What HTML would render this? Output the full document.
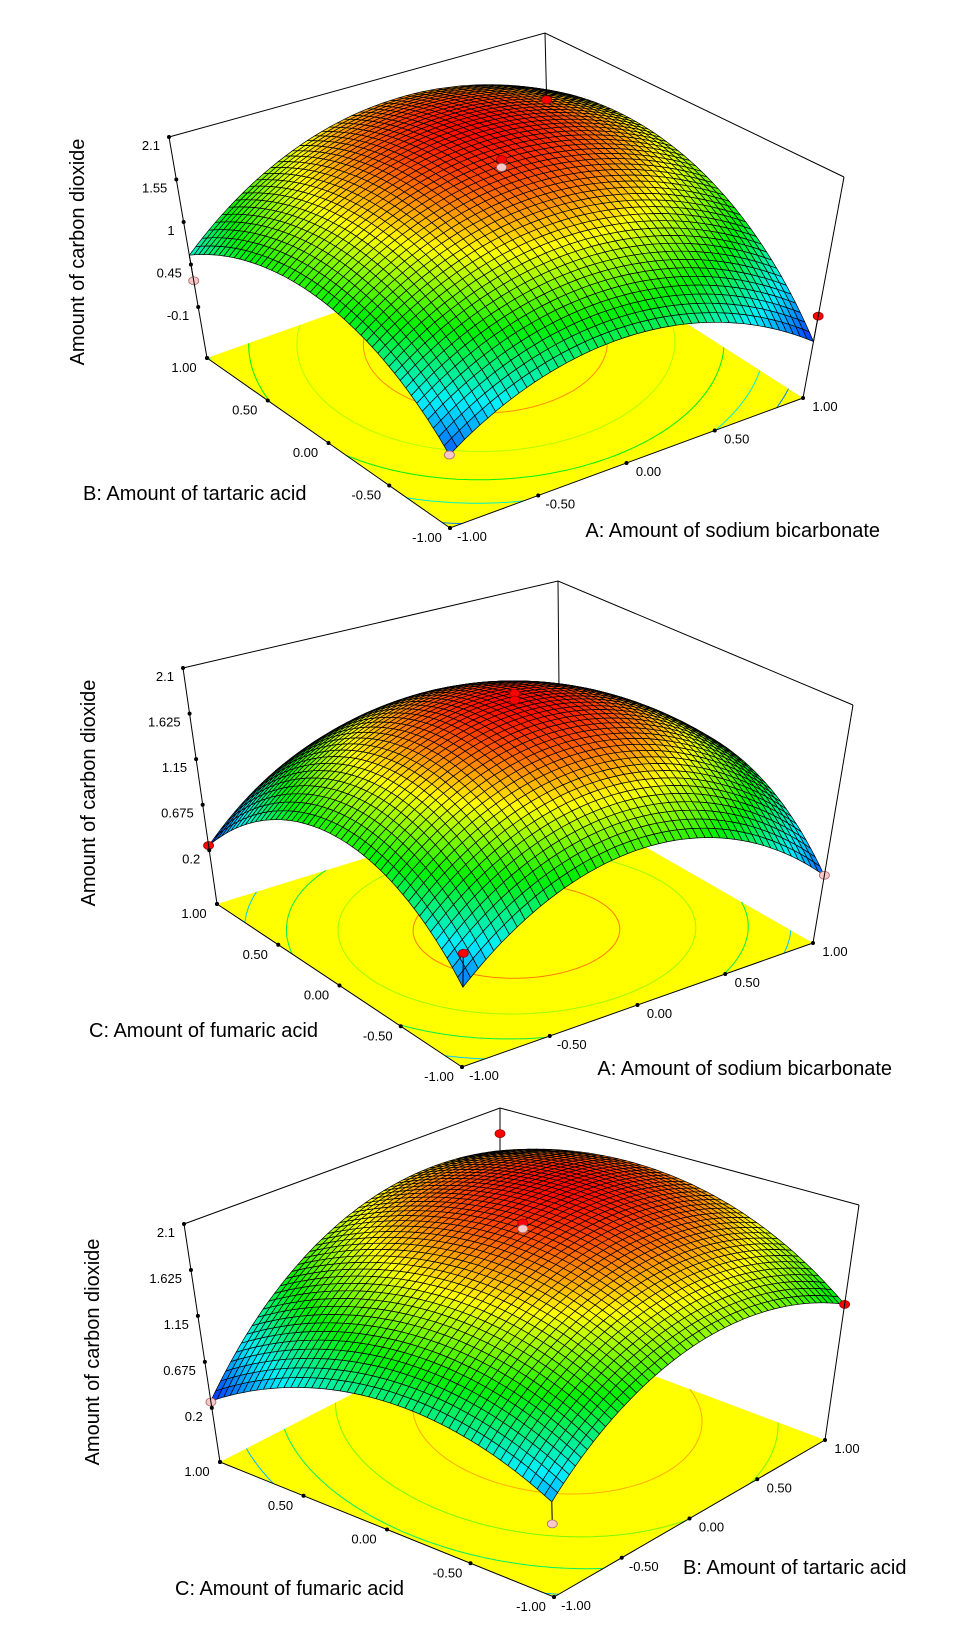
<!DOCTYPE html>
<html>
<head>
<meta charset="utf-8">
<style>
  html,body{margin:0;padding:0;background:#fff;}
  svg{display:block;}
  text{font-family:"Liberation Sans",Arial,sans-serif;fill:#000;}
  .tick{font-size:13px;}
  .title{font-size:20px;}
</style>
</head>
<body>
<svg id="chart" xmlns="http://www.w3.org/2000/svg" width="960" height="1632" viewBox="0 0 960 1632">
  <rect x="0" y="0" width="960" height="1632" fill="#fff"/>
</svg>
<script>
// ---------- data ----------
// quadratic model coefficients: [b0, b1(x), b2(y), b11(x^2), b22(y^2), b12(xy)]
const plot1Coef = [2.0, 0.15, 0.45, -0.8, -0.715, 0.215];
const plot2Coef = [2.0, -0.0025, -0.0475, -0.85, -0.83, 0.0275];
const plot3Coef = [2.0, 0.46, 0.065, -0.6, -0.53, 0.205];

const plot1ZTicks = [-0.1, 0.45, 1, 1.55, 2.1];
const plot1ZTickLabels = ['-0.1', '0.45', '1', '1.55', '2.1'];
const plot23ZTicks = [0.2, 0.675, 1.15, 1.625, 2.1];
const plot23ZTickLabels = ['0.2', '0.675', '1.15', '1.625', '2.1'];
const floorTicks = [-1, -0.5, 0, 0.5, 1];
const floorTickLabels = ['-1.00', '-0.50', '0.00', '0.50', '1.00'];

const plot1ContourLevels = [0.2, 0.6, 1.0, 1.4, 1.8];
const plot2ContourLevels = [0.6, 1.0, 1.4, 1.8];
const plot3ContourLevels = [0.6, 1.0, 1.4, 1.8];

// design points (x, y, response, marker)
const plot1PtX = [1, 0, 0, -1, 1, -1];
const plot1PtY = [1, 0, 0, 1, -1, -1];
const plot1PtZ = [1.16, 2.08, 1.98, 0.24, 0.30, 0.10];
const plot1PtKind = ['red', 'red', 'pink', 'pink', 'red', 'pink'];

const plot2PtX = [-1, 0, 0, -1, 1];
const plot2PtY = [1, 0, 0, -1, -1];
const plot2PtZ = [0.25, 2.07, 2.0, 0.72, 0.34];
const plot2PtKind = ['red', 'red', 'red', 'red', 'pink'];

const plot3PtX = [-1, -1, 1, 1, 0, 0];
const plot3PtY = [1, -1, -1, 1, 0, 0];
const plot3PtZ = [0.26, 0.34, 1.06, 1.8, 2.06, 2.0];
const plot3PtKind = ['pink', 'pink', 'red', 'red', 'red', 'pink'];

// ---------- geometry (layout) ----------
const plots = [
  { id: 'plot1', coef: plot1Coef, zTicks: plot1ZTicks, zLabels: plot1ZTickLabels, levels: plot1ContourLevels,
    px: plot1PtX, py: plot1PtY, pz: plot1PtZ, pk: plot1PtKind,
    F: [450, 528], R: [803, 398], L: [207, 358], K: [550, 236],
    Ft: [448, 285], Rt: [844, 177], Lt: [169, 137], Kt: [545, 33],
    zmin: -0.76, zmax: 2.1,
    zTitle: [77, 252], leftTitle: 'B: Amount of tartaric acid', leftTitlePos: [83, 500, 'start'],
    rightTitle: 'A: Amount of sodium bicarbonate', rightTitlePos: [880, 537, 'end'] },
  { id: 'plot2', coef: plot2Coef, zTicks: plot23ZTicks, zLabels: plot23ZTickLabels, levels: plot2ContourLevels,
    px: plot2PtX, py: plot2PtY, pz: plot2PtZ, pk: plot2PtKind,
    F: [462, 1067], R: [813, 943], L: [217, 904], K: [560, 798],
    Ft: [465, 808], Rt: [853, 705], Lt: [183, 668], Kt: [558, 581],
    zmin: -0.36, zmax: 2.1,
    zTitle: [88, 793], leftTitle: 'C: Amount of fumaric acid', leftTitlePos: [89, 1037, 'start'],
    rightTitle: 'A: Amount of sodium bicarbonate', rightTitlePos: [892, 1075, 'end'] },
  { id: 'plot3', coef: plot3Coef, zTicks: plot23ZTicks, zLabels: plot23ZTickLabels, levels: plot3ContourLevels,
    px: plot3PtX, py: plot3PtY, pz: plot3PtZ, pk: plot3PtKind,
    F: [554, 1597], R: [825, 1440], L: [220, 1462], K: [500, 1318],
    Ft: [548, 1340], Rt: [859, 1205], Lt: [184, 1224], Kt: [500, 1108],
    zmin: -0.36, zmax: 2.1,
    zTitle: [92, 1352], leftTitle: 'C: Amount of fumaric acid', leftTitlePos: [404, 1595, 'end'],
    rightTitle: 'B: Amount of tartaric acid', rightTitlePos: [683, 1574, 'start'] }
];

const NS = 'http://www.w3.org/2000/svg';
const svg = document.getElementById('chart');

function model(c, a, b) { return c[0] + c[1]*a + c[2]*b + c[3]*a*a + c[4]*b*b + c[5]*a*b; }

function bil(P, s, t, k) {
  return P.F[k]*(1-s)*(1-t) + P.R[k]*s*(1-t) + P.L[k]*(1-s)*t + P.K[k]*s*t;
}
function bilTop(P, s, t, k) {
  return P.Ft[k]*(1-s)*(1-t) + P.Rt[k]*s*(1-t) + P.Lt[k]*(1-s)*t + P.Kt[k]*s*t;
}
// a = right-axis variable, b = left-axis variable
function proj(P, a, b, z) {
  const s = (a + 1) / 2, t = (b + 1) / 2, h = (z - P.zmin) / (P.zmax - P.zmin);
  const fx = bil(P, s, t, 0), fy = bil(P, s, t, 1);
  const tx = bilTop(P, s, t, 0), ty = bilTop(P, s, t, 1);
  return [fx + (tx - fx) * h, fy + (ty - fy) * h];
}
function cmap(v) {
  v = Math.max(0, Math.min(1, v));
  const stops = [[0, 0, 40, 255], [0.25, 0, 240, 255], [0.5, 0, 240, 0], [0.75, 255, 255, 0], [1, 255, 10, 0]];
  for (let i = 0; i < stops.length - 1; i++) {
    const a = stops[i], b = stops[i + 1];
    if (v <= b[0]) {
      const u = (v - a[0]) / (b[0] - a[0]);
      return 'rgb(' + Math.round(a[1] + (b[1]-a[1])*u) + ',' + Math.round(a[2] + (b[2]-a[2])*u) + ',' + Math.round(a[3] + (b[3]-a[3])*u) + ')';
    }
  }
  return 'rgb(255,10,0)';
}
function mk(tag, attrs, parent) {
  const el = document.createElementNS(NS, tag);
  for (const k in attrs) el.setAttribute(k, attrs[k]);
  (parent || svg).appendChild(el);
  return el;
}
function pts(arr) { return arr.map(p => p[0].toFixed(1) + ',' + p[1].toFixed(1)).join(' '); }

plots.forEach(function (P, pi) {
  const g = mk('g', {});
  
  

  const N = 48;
  let vmin = Infinity, vmax = -Infinity;
  for (let i = 0; i <= N; i++) for (let j = 0; j <= N; j++) {
    const v = model(P.coef, -1 + 2*i/N, -1 + 2*j/N);
    vmin = Math.min(vmin, v); vmax = Math.max(vmax, v);
  }
  const norm = v => (v - vmin) / (vmax - vmin);

  const back = mk('polyline', { points: pts([P.Lt, P.Kt, P.Rt]), fill: 'none', stroke: '#000', 'stroke-width': 1 }, g);
  
  
  const backV = mk('line', { x1: P.K[0], y1: P.K[1], x2: P.Kt[0], y2: P.Kt[1], stroke: '#000', 'stroke-width': 1 }, g);
  
  

  const floor = mk('polygon', { points: pts([P.F, P.R, P.K, P.L]), fill: '#ffff00', stroke: 'none' }, g);
  
  

  const M = 70;
  const cg = mk('g', {}, g);
  
  
  P.levels.forEach(function (lev) {
    let d = '';
    for (let i = 0; i < M; i++) for (let j = 0; j < M; j++) {
      const a0 = -1 + 2*i/M, a1 = -1 + 2*(i+1)/M, b0 = -1 + 2*j/M, b1 = -1 + 2*(j+1)/M;
      const c = [[a0, b0], [a1, b0], [a1, b1], [a0, b1]];
      const v = c.map(p => model(P.coef, p[0], p[1]));
      const cross = [];
      for (let e = 0; e < 4; e++) {
        const p = c[e], q = c[(e+1)%4], vp = v[e], vq = v[(e+1)%4];
        if ((vp - lev) * (vq - lev) < 0) {
          const u = (lev - vp) / (vq - vp);
          cross.push([p[0] + (q[0]-p[0])*u, p[1] + (q[1]-p[1])*u]);
        }
      }
      for (let k = 0; k + 1 < cross.length; k += 2) {
        const A = proj(P, cross[k][0], cross[k][1], P.zmin), B = proj(P, cross[k+1][0], cross[k+1][1], P.zmin);
        d += 'M' + A[0].toFixed(1) + ' ' + A[1].toFixed(1) + 'L' + B[0].toFixed(1) + ' ' + B[1].toFixed(1);
      }
    }
    const path = mk('path', { d: d, fill: 'none', stroke: cmap(norm(lev)), 'stroke-width': 1 }, cg);
    
    
  });

  const fe = mk('polyline', { points: pts([P.L, P.F, P.R]), fill: 'none', stroke: '#000', 'stroke-width': 1 }, g);
  
  

  const sg = mk('g', {}, g);
  
  
  const quads = [];
  for (let i = 0; i < N; i++) for (let j = 0; j < N; j++) {
    const a0 = -1 + 2*i/N, a1 = -1 + 2*(i+1)/N, b0 = -1 + 2*j/N, b1 = -1 + 2*(j+1)/N;
    const corners = [[a0, b0], [a1, b0], [a1, b1], [a0, b1]];
    const p = corners.map(q => proj(P, q[0], q[1], model(P.coef, q[0], q[1])));
    const am = (a0 + a1)/2, bm = (b0 + b1)/2, vm = model(P.coef, am, bm);
    const h = (vm - P.zmin) / (P.zmax - P.zmin);
    quads.push({ p: p, v: vm, depth: 0.615*(am + bm) - 1.18*h });
  }
  quads.sort((x, y) => y.depth - x.depth);
  quads.forEach(function (q) {
    const poly = mk('polygon', { points: pts(q.p), fill: cmap(norm(q.v)), stroke: '#000', 'stroke-width': 0.7, 'stroke-linejoin': 'round' }, sg);
    
    
  });

  for (let k = 0; k < P.px.length; k++) {
    const a = P.px[k], b = P.py[k];
    const sp = proj(P, a, b, model(P.coef, a, b));
    const dp = proj(P, a, b, P.pz[k]);
    const stem = mk('line', { x1: sp[0], y1: sp[1], x2: dp[0], y2: dp[1], stroke: '#000', 'stroke-width': 1 }, g);
    
    
    const dot = mk('ellipse', { cx: dp[0], cy: dp[1], rx: 5, ry: 4,
      fill: P.pk[k] === 'red' ? '#ff0000' : '#f8c8c8', stroke: P.pk[k] === 'red' ? '#900' : '#a66', 'stroke-width': 0.8 }, g);
    
    
  }

  const lv = mk('line', { x1: P.L[0], y1: P.L[1], x2: P.Lt[0], y2: P.Lt[1], stroke: '#000', 'stroke-width': 1 }, g);
  
  
  const rv = mk('line', { x1: P.R[0], y1: P.R[1], x2: P.Rt[0], y2: P.Rt[1], stroke: '#000', 'stroke-width': 1 }, g);
  
  

  const lc = mk('circle', { cx: P.L[0], cy: P.L[1], r: 2, fill: '#000' }, g);
  
  
  P.zTicks.forEach(function (z, k) {
    const p = proj(P, -1, 1, z);
    const c = mk('circle', { cx: p[0], cy: p[1], r: 2, fill: '#000' }, g);
    
    
    const t = mk('text', { x: p[0] - 9, y: p[1] + 13, 'text-anchor': 'end', class: 'tick' }, g);
    t.textContent = P.zLabels[k];
    
    
  });

  floorTicks.forEach(function (v, k) {
    const pl = proj(P, -1, v, P.zmin);
    const c1 = mk('circle', { cx: pl[0], cy: pl[1], r: 2, fill: '#000' }, g);
    
    
    const t1 = mk('text', { x: pl[0] - 23, y: pl[1] + 14, 'text-anchor': 'middle', class: 'tick' }, g);
    t1.textContent = floorTickLabels[k];
    
    

    const pr = proj(P, v, -1, P.zmin);
    const c2 = mk('circle', { cx: pr[0], cy: pr[1], r: 2, fill: '#000' }, g);
    
    
    const t2 = mk('text', { x: pr[0] + 22, y: pr[1] + 13, 'text-anchor': 'middle', class: 'tick' }, g);
    t2.textContent = floorTickLabels[k];
    
    
  });

  const zt = mk('text', { x: P.zTitle[0], y: P.zTitle[1], 'text-anchor': 'middle', class: 'title',
    transform: 'rotate(-90 ' + P.zTitle[0] + ' ' + P.zTitle[1] + ')', dy: '7' }, g);
  zt.textContent = 'Amount of carbon dioxide';
  
  
  const lt = mk('text', { x: P.leftTitlePos[0], y: P.leftTitlePos[1], 'text-anchor': P.leftTitlePos[2], class: 'title' }, g);
  lt.textContent = P.leftTitle;
  
  
  const rt = mk('text', { x: P.rightTitlePos[0], y: P.rightTitlePos[1], 'text-anchor': P.rightTitlePos[2], class: 'title' }, g);
  rt.textContent = P.rightTitle;
  
  
});
</script>
</body>
</html>
